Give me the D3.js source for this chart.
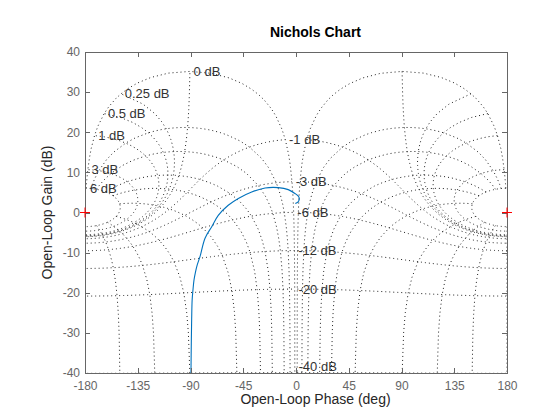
<!DOCTYPE html>
<html>
<head>
<meta charset="utf-8">
<script src="https://cdn.jsdelivr.net/npm/d3@7"></script>
<style>
  body { margin: 0; background: #fff; }
  text { font-family: "Liberation Sans", Arial, Helvetica, sans-serif; }
</style>
</head>
<body>
<svg id="chart" width="560" height="420"></svg>
<script>
// axis ticks
var phaseTicks = [-180, -135, -90, -45, 0, 45, 90, 135, 180]
var gainTicks = [-40, -30, -20, -10, 0, 10, 20, 30, 40]

// closed-loop gain contours (dB) and closed-loop phase contours (deg)
var clGain = [6, 3, 1, 0.5, 0.25, 0, -1, -3, -6, -12, -20, -40]
var clPhase = [1, 5, 10, 20, 30, 50, 90, 120, 150, 180]
// closed-loop gains used to trace the phase contours (dB)
var clGainSteps = [6, 5, 4, 3, 2, 1.5, 1, 0.75, 0.5, 0.4, 0.3, 0.25, 0.2, 0.15, 0.1, 0.05, 0,
  -0.05, -0.1, -0.15, -0.2, -0.25, -0.3, -0.4, -0.5, -0.75, -1, -1.5, -2, -3, -4, -5, -6,
  -8, -10, -12, -16, -20, -25, -30, -40, -50, -60]

// open-loop response
var respPhase = [-89.8, -89.6, -89.3, -89.0, -88.6, -87.9, -87.0, -85.8, -84.2, -81.9, -77.6, -72.0,
  -66.3, -57.8, -49.2, -37.8, -26.4, -15.1, -6.6, -0.9, 2.2, 2.8, 1.6, -0.6]
var respGain = [-45, -40, -32, -26.6, -21.8, -19.3, -16.8, -14.9, -13.0, -11.0, -6.4, -3.6,
  -0.7, 1.8, 3.5, 5.1, 6.1, 6.2, 5.7, 4.75, 4.0, 3.3, 2.6, 2.25]

var svg = d3.select('#chart')
var plotL = 85, plotR = 507, plotT = 52, plotB = 373

var x = d3.scaleLinear().domain([-180, 180]).range([plotL, plotR])
var y = d3.scaleLinear().domain([-40, 40]).range([plotB, plotT])

svg.append('defs').append('clipPath').attr('id', 'plotclip')
  .append('rect')
  .attr('x', plotL).attr('y', plotT)
  .attr('width', plotR - plotL).attr('height', plotB - plotT)

// open-loop point (phase 0..360, gain dB) for closed-loop gain mdb and phase phi
function openLoop(mdb, phi) {
  var m = Math.pow(10, mdb / 20)
  var r = phi * Math.PI / 180
  var re = 1 - m * Math.cos(r), im = -m * Math.sin(r)
  var g = 20 * Math.log10(m / Math.hypot(re, im))
  var p = phi - Math.atan2(im, re) * 180 / Math.PI
  p = ((p % 360) + 360) % 360
  return [p, g]
}

var line = d3.line()
  .x(function(d) { return x(d[0]) })
  .y(function(d) { return y(d[1]) })

var gridG = svg.append('g').attr('clip-path', 'url(#plotclip)')
var phiSteps = d3.range(1, 360, 1)
var copies = [0, -360]

copies.forEach(function(off) {
  clGain.forEach(function(mdb) {
    var pts = phiSteps.map(function(phi) {
      var q = openLoop(mdb, phi)
      return [q[0] + off, q[1]]
    })
    gridG.append('path').attr('class', 'ngrid').attr('d', line(pts))
  })
  var phis = clPhase.concat(clPhase.filter(function(p) { return p !== 180 })
    .map(function(p) { return 360 - p }))
  phis.forEach(function(phi) {
    var pts = clGainSteps.map(function(mdb) {
      var q = openLoop(mdb, phi)
      return [q[0] + off, q[1]]
    })
    gridG.append('path').attr('class', 'ngrid').attr('d', line(pts))
  })
})

gridG.selectAll('path.ngrid')
  .attr('fill', 'none')
  .attr('stroke', '#1f1f1f')
  .attr('stroke-width', 1)
  .attr('stroke-dasharray', '1 3')

// contour labels sit where the -1 deg phase contour meets each gain contour
// (kept inside the axes box)
svg.append('g').selectAll('text')
  .data(clGain)
  .enter().append('text')
  .attr('x', function(d) { return x(openLoop(d, 359)[0] - 360) + 3.7 })
  .attr('y', function(d) { return Math.min(y(openLoop(d, 359)[1]), plotB - 7) })
  .attr('dy', '0.35em')
  .attr('font-size', 13)
  .attr('fill', '#333')
  .text(function(d) { return d + ' dB' })

// response
svg.append('path')
  .attr('clip-path', 'url(#plotclip)')
  .datum(respPhase.map(function(p, i) { return [p, respGain[i]] }))
  .attr('fill', 'none')
  .attr('stroke', '#0072bd')
  .attr('stroke-width', 1.1)
  .attr('d', line.curve(d3.curveCatmullRom.alpha(0.5)))

// axes
var axColor = '#666'
var plainNum = function(d) { return String(d) }
svg.append('g').attr('transform', 'translate(0,' + plotB + ')')
  .call(d3.axisBottom(x).tickValues(phaseTicks).tickFormat(plainNum)
    .tickSizeInner(-5).tickSizeOuter(0).tickPadding(8))
svg.append('g').attr('transform', 'translate(0,' + plotT + ')')
  .call(d3.axisTop(x).tickValues(phaseTicks).tickSizeInner(-5).tickSizeOuter(0).tickFormat(''))
svg.append('g').attr('transform', 'translate(' + plotL + ',0)')
  .call(d3.axisLeft(y).tickValues(gainTicks).tickFormat(plainNum)
    .tickSizeInner(-5).tickSizeOuter(0).tickPadding(5))
svg.append('g').attr('transform', 'translate(' + plotR + ',0)')
  .call(d3.axisRight(y).tickValues(gainTicks).tickSizeInner(-5).tickSizeOuter(0).tickFormat(''))

svg.selectAll('.domain, .tick line')
  .attr('stroke', axColor)
  .attr('shape-rendering', 'crispEdges')
svg.selectAll('.tick text')
  .attr('fill', axColor)
  .attr('font-size', 12)
  .attr('font-family', '"Liberation Sans", Arial, Helvetica, sans-serif')

// critical points
var crit = svg.append('g').attr('stroke', '#ff0000').attr('stroke-width', 1)
;[-180, 180].forEach(function(p) {
  crit.append('line').attr('x1', x(p) - 5).attr('x2', x(p) + 5).attr('y1', y(0)).attr('y2', y(0))
  crit.append('line').attr('x1', x(p)).attr('x2', x(p)).attr('y1', y(0) - 5).attr('y2', y(0) + 5)
})

// titles
svg.append('text')
  .attr('x', 315.5).attr('y', 37)
  .attr('text-anchor', 'middle')
  .attr('font-size', 14).attr('font-weight', 'bold')
  .attr('fill', '#000')
  .text('Nichols Chart')

svg.append('text')
  .attr('x', 315.5).attr('y', 404)
  .attr('text-anchor', 'middle')
  .attr('font-size', 14)
  .attr('fill', '#262626')
  .text('Open-Loop Phase (deg)')

svg.append('text')
  .attr('transform', 'translate(52,' + (plotT + plotB) / 2 + ') rotate(-90)')
  .attr('text-anchor', 'middle')
  .attr('font-size', 14)
  .attr('fill', '#262626')
  .text('Open-Loop Gain (dB)')
</script>
</body>
</html>
